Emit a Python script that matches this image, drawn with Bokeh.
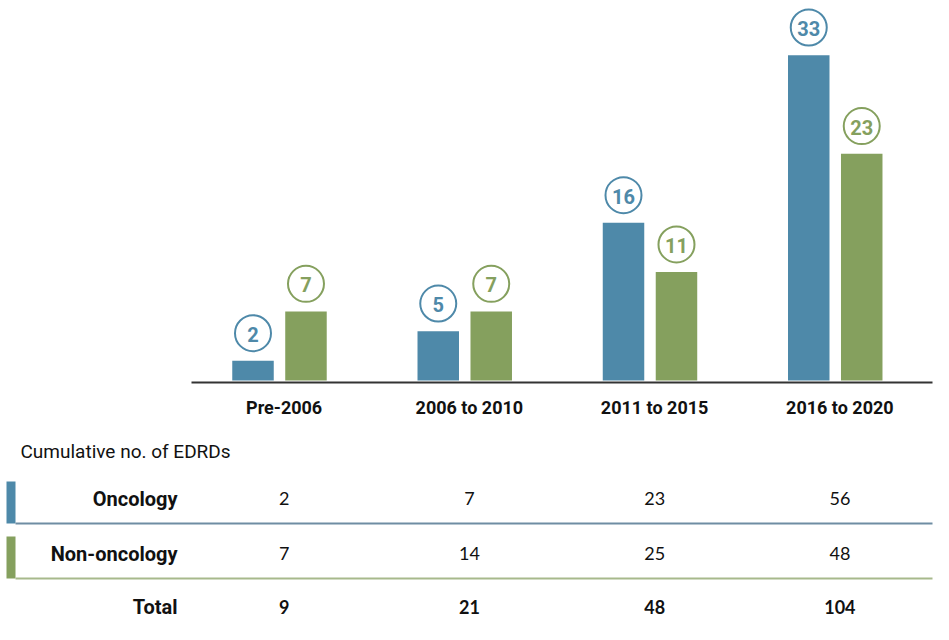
from bokeh.plotting import figure
from bokeh.layouts import column
from bokeh.models import ColumnDataSource, Range1d, FixedTicker
from bokeh.transform import dodge
from bokeh.core.properties import value
from bokeh.embed import file_html
from bokeh.resources import INLINE

# ---------------- data ----------------
periods = ["Pre-2006", "2006 to 2010", "2011 to 2015", "2016 to 2020"]
oncology = [2, 5, 16, 33]
non_oncology = [7, 7, 11, 23]
cum_oncology = [2, 7, 23, 56]
cum_non_oncology = [7, 14, 25, 48]
cum_total = [9, 21, 48, 104]
row_labels = ["Oncology", "Non-oncology", "Total"]
table_title = "Cumulative no. of EDRDs"

# ---------------- style / layout ----------------
BLUE = "#4E89A9"
GREEN = "#85A05E"
BLUE_LINE = "#6F8DA3"
GREEN_LINE = "#A7B98C"
HEAD = "Roboto"
BODY = "Lato"

W = 941
TOP_H = 420
TAB_H = 200
AX_L, AX_R = 191, 932          # pixel extent of the category band
PX_PER_UNIT = 9.91             # vertical pixels per bar unit
BASE_Y = 382                   # pixel row of value 0
AXIS_Y = 384                   # pixel row of the axis line
FRAME_BOTTOM = 387
unit = (AX_R - AX_L) / len(periods)


def ux(img_x):
    return (img_x - AX_L) / unit


label_off = 27.8 / PX_PER_UNIT
D_ONC, D_NON, BAR_W = -0.168, 0.118, 0.224
xs = [i + 0.5 for i in range(len(periods))]

src = ColumnDataSource(dict(
    xpos=xs,
    onc=oncology, non=non_oncology,
    onc_lbl=[str(v) for v in oncology], non_lbl=[str(v) for v in non_oncology],
    onc_y=[v + label_off for v in oncology], non_y=[v + label_off for v in non_oncology],
))

p = figure(x_range=Range1d(ux(0), ux(W)),
           y_range=Range1d(-(FRAME_BOTTOM - BASE_Y) / PX_PER_UNIT, BASE_Y / PX_PER_UNIT),
           width=W, height=TOP_H, output_backend="svg", toolbar_location=None,
           y_axis_location=None, min_border_left=0, min_border_right=0,
           min_border_top=0, min_border_bottom=TOP_H - FRAME_BOTTOM, outline_line_color=None)
p.grid.visible = False
ax = p.xaxis[0]
ax.ticker = FixedTicker(ticks=xs)
ax.major_label_overrides = {x: lab for x, lab in zip(xs, periods)}
ax.axis_line_color = None
ax.major_tick_line_color = None
ax.minor_tick_line_color = None
ax.major_tick_out = 0
ax.major_tick_in = 0
ax.major_label_standoff = 11
ax.major_label_text_font = HEAD
ax.major_label_text_font_style = "bold"
ax.major_label_text_font_size = "18px"
ax.major_label_text_color = "#111111"

for d, col, ycol, lcol, color in [(D_ONC, "onc", "onc_y", "onc_lbl", BLUE),
                                   (D_NON, "non", "non_y", "non_lbl", GREEN)]:
    xd = dodge("xpos", d)
    p.vbar(x=xd, top=col, width=BAR_W, source=src, fill_color=color, line_color=None)
    p.scatter(x=xd, y=ycol, size=36, marker="circle", fill_color="white",
              line_color=color, line_width=2, source=src)
    p.text(x=xd, y=ycol, text=lcol, source=src, text_align="center", text_baseline="middle",
           text_font=value(HEAD), text_font_style="bold", text_font_size="20px",
           text_color=color, y_offset=1)

# baseline of the category axis
axis_val = -(AXIS_Y - BASE_Y) / PX_PER_UNIT
p.segment(x0=[ux(AX_L)], x1=[ux(AX_R)], y0=[axis_val], y1=[axis_val],
          line_color="#333333", line_width=2)

# ---------------- table ----------------
def ty(img_y):
    return img_y - TOP_H


t = figure(width=W, height=TAB_H, x_range=Range1d(ux(0), ux(W)), y_range=Range1d(TAB_H, 0),
           output_backend="svg", toolbar_location=None, x_axis_location=None, y_axis_location=None,
           min_border_left=0, min_border_right=0, min_border_top=0, min_border_bottom=0,
           outline_line_color=None)
t.grid.visible = False

t.text(x=[ux(20)], y=[ty(451)], text=[table_title], text_align="left", text_baseline="middle",
       text_font=value(HEAD), text_font_size="19px", text_color="#111111")

t.quad(left=[ux(6), ux(6)], right=[ux(15), ux(15)], top=[ty(481), ty(536)],
       bottom=[ty(523), ty(578)], fill_color=[BLUE, GREEN], line_color=None)
t.segment(x0=[ux(15)], x1=[ux(AX_R)], y0=[ty(523)], y1=[ty(523)], line_color=BLUE_LINE, line_width=2)
t.segment(x0=[ux(15)], x1=[ux(AX_R)], y0=[ty(578)], y1=[ty(578)], line_color=GREEN_LINE, line_width=2)

row_y = [ty(498), ty(553), ty(606)]
t.text(x=[ux(177)] * 3, y=row_y, text=row_labels, text_align="right", text_baseline="middle",
       text_font=value(HEAD), text_font_style="bold", text_font_size="20px", text_color="#111111")

for vals, yy, style in [(cum_oncology, row_y[0], "normal"),
                        (cum_non_oncology, row_y[1], "normal"),
                        (cum_total, row_y[2], "bold")]:
    t.text(x=xs, y=[yy] * len(xs), text=[str(v) for v in vals], text_align="center",
           text_baseline="middle", text_font=value(BODY), text_font_style=style,
           text_font_size="18px", text_color="#111111")

layout = column(p, t, spacing=0)
open("out.html", "w").write(file_html(layout, INLINE))
